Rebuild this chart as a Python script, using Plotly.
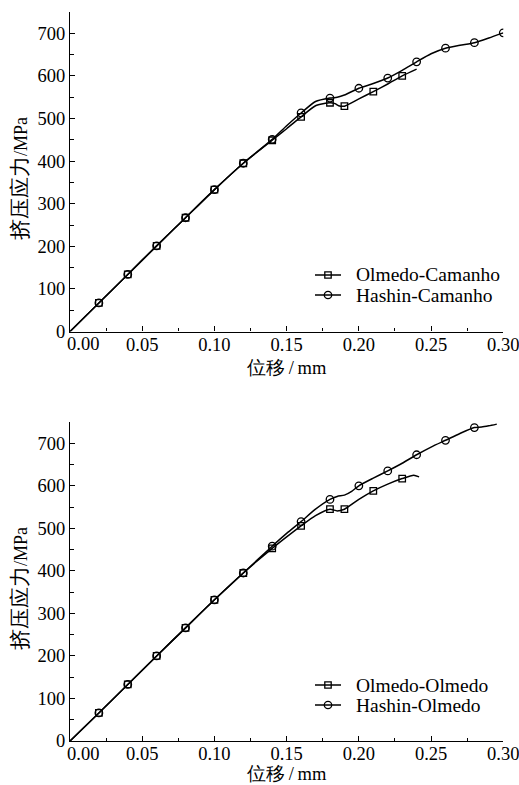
import plotly.graph_objects as go

# ---------------- data ----------------
# Top panel
disp_oc = [0, 0.02, 0.04, 0.06, 0.08, 0.10, 0.12, 0.14, 0.15, 0.16, 0.17, 0.18,
           0.1835, 0.186, 0.19, 0.20, 0.21, 0.22, 0.23, 0.24]
stress_oc = [0, 67, 134, 201, 267, 333, 395, 449, 476, 504, 530, 537,
             535, 530, 529, 546, 563, 581, 600, 616]
marks_oc = [0.02, 0.04, 0.06, 0.08, 0.10, 0.12, 0.14, 0.16, 0.18, 0.19, 0.21, 0.23]

disp_hc = [0, 0.02, 0.04, 0.06, 0.08, 0.10, 0.12, 0.14, 0.15, 0.16, 0.17, 0.18,
           0.185, 0.19, 0.20, 0.21, 0.22, 0.23, 0.24, 0.25, 0.26, 0.27, 0.28, 0.29, 0.30]
stress_hc = [0, 67, 134, 201, 267, 333, 395, 451, 483, 513, 540, 548,
             550, 555, 571, 582, 595, 613, 633, 652, 665, 672, 678, 689, 701]
marks_hc = [0.02, 0.04, 0.06, 0.08, 0.10, 0.12, 0.14, 0.16, 0.18, 0.20, 0.22,
            0.24, 0.26, 0.28, 0.30]

# Bottom panel
disp_oo = [0, 0.02, 0.04, 0.06, 0.08, 0.10, 0.12, 0.14, 0.15, 0.16, 0.17, 0.18,
           0.185, 0.19, 0.20, 0.21, 0.22, 0.23, 0.238, 0.2417]
stress_oo = [0, 66, 133, 200, 266, 332, 395, 453, 480, 506, 530, 545,
             541, 545, 568, 588, 604, 617, 625, 621]
marks_oo = [0.02, 0.04, 0.06, 0.08, 0.10, 0.12, 0.14, 0.16, 0.18, 0.19, 0.21, 0.23]

disp_ho = [0, 0.02, 0.04, 0.06, 0.08, 0.10, 0.12, 0.14, 0.15, 0.16, 0.17, 0.18,
           0.185, 0.19, 0.195, 0.20, 0.21, 0.22, 0.23, 0.24, 0.25, 0.26, 0.27,
           0.28, 0.285, 0.29, 0.2955]
stress_ho = [0, 66, 133, 200, 266, 332, 395, 458, 488, 516, 545, 568,
             575, 578, 587, 600, 618, 635, 653, 673, 691, 707, 723,
             737, 738, 741, 745]
marks_ho = [0.02, 0.04, 0.06, 0.08, 0.10, 0.12, 0.14, 0.16, 0.18, 0.20, 0.22,
            0.24, 0.26, 0.28]

names_top = ["Olmedo-Camanho", "Hashin-Camanho"]
names_bot = ["Olmedo-Olmedo", "Hashin-Olmedo"]

x_ticks = [0.00, 0.05, 0.10, 0.15, 0.20, 0.25, 0.30]
x_ticktext = ["", "0.05", "0.10", "0.15", "0.20", "0.25", "0.30"]
x_first_label = "0.00"   # drawn slightly right of its tick, as in the original
y_ticks = [0, 100, 200, 300, 400, 500, 600, 700]

x_title = "位移\u2009/\u2009mm"
y_title = "<span style='font-size:21px'>挤压应力</span>/MPa"

# ---------------- figure ----------------
W, H = 519, 785
FONT = "Liberation Serif"
TICKSIZE = 18.5
fig = go.Figure()


def add_series(disp, stress, marks, symbol, size, xa, ya):
    fig.add_trace(go.Scatter(
        x=disp, y=stress, mode="lines", xaxis=xa, yaxis=ya,
        line=dict(color="black", width=1.5, shape="spline", smoothing=0.6),
        showlegend=False, hoverinfo="skip"))
    my = [stress[disp.index(m)] for m in marks]
    fig.add_trace(go.Scatter(
        x=marks, y=my, mode="markers", xaxis=xa, yaxis=ya,
        marker=dict(symbol=symbol, size=size, color="black",
                    line=dict(color="black", width=1.3)),
        showlegend=False))


add_series(disp_oc, stress_oc, marks_oc, "square-open", 6.5, "x", "y")
add_series(disp_hc, stress_hc, marks_hc, "circle-open", 7.5, "x", "y")
add_series(disp_oo, stress_oo, marks_oo, "square-open", 6.5, "x2", "y2")
add_series(disp_ho, stress_ho, marks_ho, "circle-open", 7.5, "x2", "y2")

xdom = [70 / W, 503.3 / W]
top_dom = [1 - 331.5 / H, 1 - 12 / H]
bot_dom = [1 - 741 / H, 1 - 422 / H]

xcommon = dict(range=[0, 0.30001], domain=xdom, tickvals=x_ticks, ticktext=x_ticktext,
               showline=True, linecolor="black", linewidth=1.2, ticks="inside",
               ticklen=5, tickwidth=1.2, tickcolor="black", showgrid=False, zeroline=False,
               automargin=False, ticklabeloverflow="allow", ticklabelstandoff=-4,
               tickfont=dict(family=FONT, size=TICKSIZE, color="black"),
               minor=dict(dtick=0.025, ticks="inside", ticklen=3, tickwidth=1.2,
                          tickcolor="black", showgrid=False))
ycommon = dict(range=[0, 750], tickvals=y_ticks,
               showline=True, linecolor="black", linewidth=1.2, ticks="inside",
               ticklen=5, tickwidth=1.2, tickcolor="black", showgrid=False, zeroline=False,
               automargin=False, ticklabeloverflow="allow",
               tickfont=dict(family=FONT, size=TICKSIZE, color="black"),
               minor=dict(dtick=50, ticks="inside", ticklen=4, tickwidth=1.2,
                          tickcolor="black", showgrid=False))

fig.update_layout(
    template="none",
    width=W, height=H, margin=dict(l=0, r=0, t=0, b=0, pad=0, autoexpand=False),
    paper_bgcolor="white", plot_bgcolor="white",
    font=dict(family=FONT, size=18, color="black"),
    xaxis=dict(**xcommon, anchor="y"),
    yaxis=dict(**ycommon, domain=top_dom, anchor="x"),
    xaxis2=dict(**xcommon, anchor="y2"),
    yaxis2=dict(**ycommon, domain=bot_dom, anchor="x2"),
    showlegend=False,
)

annos = []
shapes = []
# axis titles
for yc in [179, 589]:
    annos.append(dict(x=20 / W, y=1 - yc / H, xref="paper", yref="paper",
                      text=y_title, textangle=-90, showarrow=False,
                      xanchor="center", yanchor="middle",
                      font=dict(family=FONT, size=18, color="black")))
for yc in [368, 773.5]:
    annos.append(dict(x=286.7 / W, y=1 - yc / H, xref="paper", yref="paper",
                      text=x_title, showarrow=False,
                      xanchor="center", yanchor="middle",
                      font=dict(family=FONT, size=18.5, color="black")))
# first x tick label, offset to the right of the axis corner
for yc in [343.5, 753.5]:
    annos.append(dict(x=83 / W, y=1 - yc / H, xref="paper", yref="paper",
                      text=x_first_label, showarrow=False,
                      xanchor="center", yanchor="middle",
                      font=dict(family=FONT, size=TICKSIZE, color="black")))


# legends (line sample + marker + text)
def px_x(v):
    return v / W


def px_y(v):
    return 1 - v / H


for names, rows in [(names_top, [275, 295]), (names_bot, [685, 705])]:
    for name, yrow, kind in zip(names, rows, ["rect", "circle"]):
        shapes.append(dict(type="line", xref="paper", yref="paper",
                           x0=px_x(315), x1=px_x(341), y0=px_y(yrow), y1=px_y(yrow),
                           line=dict(color="black", width=1.5)))
        r = 3.2 if kind == "rect" else 3.7
        shapes.append(dict(type=kind, xref="paper", yref="paper",
                           x0=px_x(328 - r), x1=px_x(328 + r),
                           y0=px_y(yrow + r), y1=px_y(yrow - r),
                           line=dict(color="black", width=1.3),
                           fillcolor="rgba(0,0,0,0)"))
        annos.append(dict(x=px_x(354), y=px_y(yrow), xref="paper", yref="paper",
                          text=name, showarrow=False, xanchor="left", yanchor="middle",
                          font=dict(family=FONT, size=19.5, color="black")))

fig.update_layout(annotations=annos, shapes=shapes)

fig.write_html("out.html")
